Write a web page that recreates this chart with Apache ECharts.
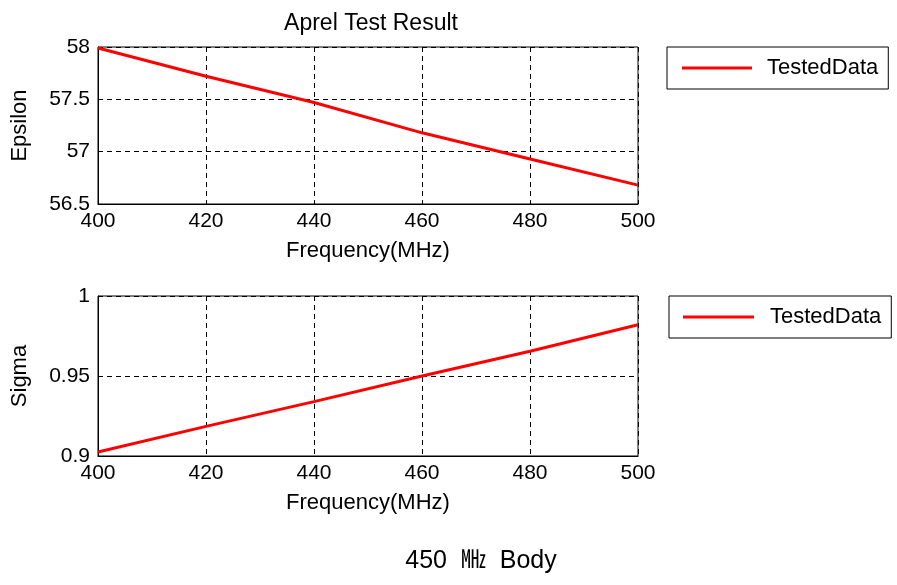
<!DOCTYPE html>
<html>
<head>
<meta charset="utf-8">
<script src="https://cdn.jsdelivr.net/npm/echarts@6/dist/echarts.min.js"></script>
<style>
html,body{margin:0;padding:0;background:#fff;}
#c{width:897px;height:585px;}
</style>
</head>
<body>
<div id="c"></div>
<script>
var freq = [400, 420, 440, 460, 480, 500];
var epsilon = [57.99, 57.72, 57.47, 57.18, 56.93, 56.68];
var sigma = [0.9025, 0.9185, 0.934, 0.950, 0.9655, 0.982];
var seriesName = 'TestedData';
var titleText = 'Aprel Test Result';
var captionText = '450  \u3392  Body';
var xName = 'Frequency(MHz)';
var yNames = ['Epsilon', 'Sigma'];

var FONT = '"Liberation Sans", Arial, "Noto Sans CJK JP", sans-serif';

function pairs(xs, ys) { return xs.map(function (x, i) { return [x, ys[i]]; }); }

function xAxis(idx) {
  return {
    type: 'value', gridIndex: idx, min: 400, max: 500, interval: 20,
    name: xName, nameLocation: 'middle', nameGap: 36,
    nameTextStyle: { fontSize: 22, color: '#000', fontFamily: FONT },
    axisLine: { show: true, lineStyle: { color: '#000', width: 1 } },
    axisTick: { show: false },
    axisLabel: { fontSize: 21, color: '#000', fontFamily: FONT, margin: 7 },
    splitLine: { show: true, lineStyle: { color: '#000', width: 1, type: [5, 4] } }
  };
}
function yAxis(idx, min, max, interval) {
  return {
    type: 'value', gridIndex: idx, min: min, max: max, interval: interval,
    name: yNames[idx], nameLocation: 'middle', nameRotate: 90, nameGap: 67,
    nameTextStyle: { fontSize: 22, color: '#000', fontFamily: FONT },
    axisLine: { show: true, lineStyle: { color: '#000', width: 1 } },
    axisTick: { show: false },
    axisLabel: { fontSize: 21, color: '#000', fontFamily: FONT, margin: 8 },
    splitLine: { show: true, lineStyle: { color: '#000', width: 1, type: [5, 4] } }
  };
}
function legend(left, top, padLeft, iconW, textPad) {
  return {
    data: [seriesName], left: left, top: top, orient: 'horizontal',
    icon: 'rect', itemWidth: iconW, itemHeight: 3, itemGap: 0,
    padding: [10, 10, 10, padLeft],
    borderColor: '#000', borderWidth: 1, backgroundColor: '#fff',
    textStyle: { fontSize: 22, color: '#000', fontFamily: FONT, lineHeight: 21, padding: [0, 0, 0, textPad] },
    selectedMode: false
  };
}

var chart = echarts.init(document.getElementById('c'), null, { renderer: 'canvas' });
chart.setOption({
  animation: false,
  backgroundColor: '#fff',
  title: [
    { text: titleText, left: 366, top: 7, textAlign: 'center',
      textStyle: { fontSize: 23, fontWeight: 'normal', color: '#000', fontFamily: FONT } },
    { text: captionText, left: 476, top: 544, textAlign: 'center',
      textStyle: { fontSize: 25, fontWeight: 'normal', color: '#000', fontFamily: FONT } }
  ],
  legend: [
    legend(667, 47, 15, 70, 10),
    legend(669, 296, 14, 71, 11)
  ],
  grid: [
    { left: 98, top: 47, width: 540, height: 157, show: true, borderColor: '#000', borderWidth: 1, containLabel: false },
    { left: 98, top: 296, width: 540, height: 160, show: true, borderColor: '#000', borderWidth: 1, containLabel: false }
  ],
  xAxis: [xAxis(0), xAxis(1)],
  yAxis: [yAxis(0, 56.5, 58, 0.5), yAxis(1, 0.9, 1, 0.05)],
  series: [
    { name: seriesName, type: 'line', xAxisIndex: 0, yAxisIndex: 0, data: pairs(freq, epsilon),
      symbol: 'none', lineStyle: { color: '#ff0000', width: 3 }, itemStyle: { color: '#ff0000' } },
    { name: seriesName, type: 'line', xAxisIndex: 1, yAxisIndex: 1, data: pairs(freq, sigma),
      symbol: 'none', lineStyle: { color: '#ff0000', width: 3 }, itemStyle: { color: '#ff0000' } }
  ]
});
</script>
</body>
</html>
